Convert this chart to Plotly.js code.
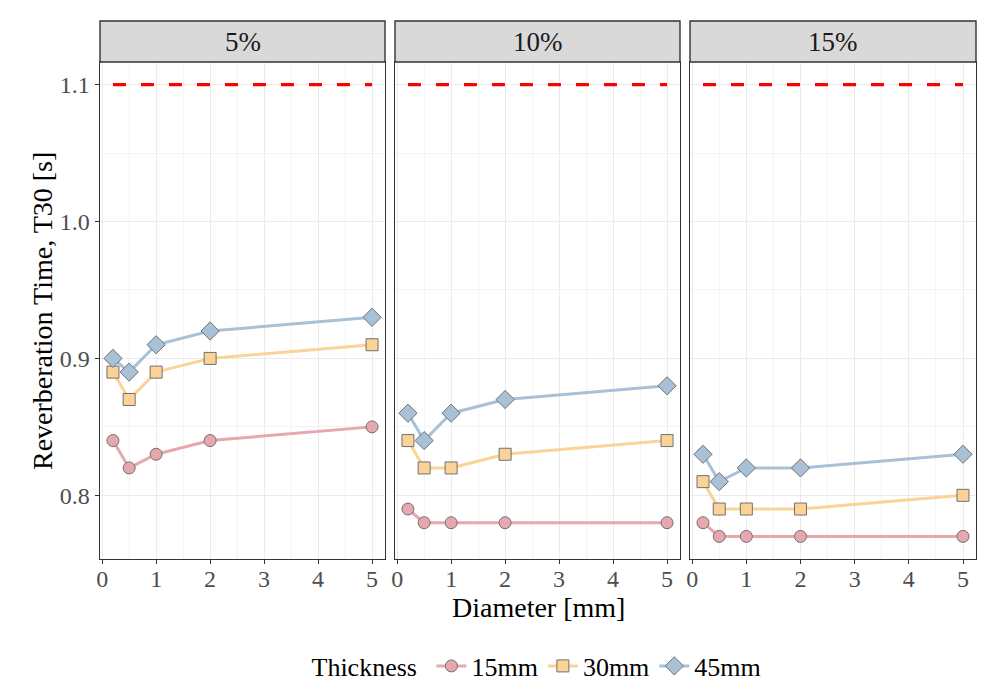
<!DOCTYPE html>
<html>
<head>
<meta charset="utf-8">
<script src="https://cdn.plot.ly/plotly-3.0.1.min.js"></script>
<style>html,body{margin:0;padding:0;background:#fff;}#chart{width:993px;height:695px;}</style>
</head>
<body>
<div id="chart"></div>
<script>
// ---- data ----
const panels = ["5%", "10%", "15%"];
const diameters = [0.2, 0.5, 1, 2, 5];
const thickness = ["15mm", "30mm", "45mm"];
const reference = [1.1, 1.1, 1.1, 1.1, 1.1];
const t30_5 = {
  "15mm": [0.84, 0.82, 0.83, 0.84, 0.85],
  "30mm": [0.89, 0.87, 0.89, 0.90, 0.91],
  "45mm": [0.90, 0.89, 0.91, 0.92, 0.93]
};
const t30_10 = {
  "15mm": [0.79, 0.78, 0.78, 0.78, 0.78],
  "30mm": [0.84, 0.82, 0.82, 0.83, 0.84],
  "45mm": [0.86, 0.84, 0.86, 0.87, 0.88]
};
const t30_15 = {
  "15mm": [0.78, 0.77, 0.77, 0.77, 0.77],
  "30mm": [0.81, 0.79, 0.79, 0.79, 0.80],
  "45mm": [0.83, 0.81, 0.82, 0.82, 0.83]
};
const xTicks = [0, 1, 2, 3, 4, 5];
const yTicks = [0.8, 0.9, 1.0, 1.1];
const yTickLabels = ["0.8", "0.9", "1.0", "1.1"];

// ---- styles ----
const W = 993, H = 695;
const colors = {"15mm": "#E6A7AE", "30mm": "#FCD397", "45mm": "#A9C1D7"};
const symbols = {"15mm": "circle", "30mm": "square", "45mm": "diamond"};
const sizes = {"15mm": 12, "30mm": 12, "45mm": 14};
const FONT = "Liberation Serif, Times New Roman, serif";
const panelX = [[100, 385], [395, 680], [690, 976]];
const plotTop = 62, plotBot = 559, stripTop = 21;

const allData = [t30_5, t30_10, t30_15];
const traces = [];
const layout = {
  width: W, height: H,
  margin: {l: 0, r: 0, t: 0, b: 0},
  paper_bgcolor: "#fff", plot_bgcolor: "#fff",
  font: {family: FONT, color: "#000"},
  showlegend: true,
  legend: {
    orientation: "h", x: 538 / W, xanchor: "center", y: 1 - 666 / H, yanchor: "middle",
    font: {family: FONT, size: 26, color: "#000"},
    title: {text: "Thickness ", font: {family: FONT, size: 26, color: "#000"}, side: "left"},
    itemwidth: 30, tracegroupgap: 0
  },
  shapes: [],
  annotations: []
};

panels.forEach((p, i) => {
  const xa = i === 0 ? "x" : "x" + (i + 1);
  const ya = i === 0 ? "y" : "y" + (i + 1);
  const xkey = i === 0 ? "xaxis" : "xaxis" + (i + 1);
  const ykey = i === 0 ? "yaxis" : "yaxis" + (i + 1);
  const d0 = panelX[i][0] / W, d1 = panelX[i][1] / W;
  layout[xkey] = {
    domain: [d0, d1], anchor: ya, range: [-0.04, 5.24],
    tickvals: xTicks, ticktext: xTicks.map(String),
    showgrid: true, gridcolor: "#EBEBEB", gridwidth: 1,
    minor: {dtick: 0.5, tick0: 0, showgrid: true, gridcolor: "#F4F4F4", gridwidth: 1, ticks: ""},
    zeroline: false,
    showline: true, linecolor: "#333333", linewidth: 1.4, mirror: true,
    ticks: "outside", ticklen: 4, tickcolor: "#333333", tickwidth: 1,
    ticklabelstandoff: -6,
    tickfont: {family: FONT, size: 24, color: "#4D4D4D"}
  };
  layout[ykey] = {
    domain: [1 - plotBot / H, 1 - plotTop / H], anchor: xa, range: [0.7535, 1.1165],
    tickvals: yTicks, ticktext: i === 0 ? yTickLabels : ["", "", "", ""],
    showticklabels: i === 0,
    showgrid: true, gridcolor: "#EBEBEB", gridwidth: 1,
    minor: {dtick: 0.05, tick0: 0.75, showgrid: true, gridcolor: "#F4F4F4", gridwidth: 1, ticks: ""},
    zeroline: false,
    showline: true, linecolor: "#333333", linewidth: 1.4, mirror: true,
    ticks: i === 0 ? "outside" : "", ticklen: 4, tickcolor: "#333333", tickwidth: 1,
    tickfont: {family: FONT, size: 24, color: "#4D4D4D"}
  };
  // strip
  layout.shapes.push({
    type: "rect", xref: "paper", yref: "paper",
    x0: d0, x1: d1, y0: 1 - plotTop / H, y1: 1 - stripTop / H,
    fillcolor: "#D9D9D9", line: {color: "#333333", width: 1.4}, layer: "above"
  });
  layout.annotations.push({
    xref: "paper", yref: "paper", x: (d0 + d1) / 2, y: 1 - ((plotTop + stripTop) / 2) / H,
    xanchor: "center", yanchor: "middle", showarrow: false, text: p,
    font: {family: FONT, size: 27, color: "#1A1A1A"}
  });
  // reference dashed line
  traces.push({
    type: "scatter", mode: "lines", x: diameters, y: reference, xaxis: xa, yaxis: ya,
    line: {color: "#FF0000", width: 3.2, dash: "13px,15px"}, showlegend: false, hoverinfo: "skip"
  });
  thickness.forEach(t => {
    traces.push({
      type: "scatter", mode: "lines+markers", name: t, legendgroup: t,
      x: diameters, y: allData[i][t], xaxis: xa, yaxis: ya,
      line: {color: colors[t], width: 3},
      marker: {symbol: symbols[t], size: sizes[t], color: colors[t], line: {color: "#707070", width: 1}},
      showlegend: i === 0
    });
  });
});

// axis titles
layout.annotations.push({
  xref: "paper", yref: "paper", x: 538 / W, y: 1 - 607 / H, xanchor: "center", yanchor: "middle",
  showarrow: false, text: "Diameter [mm]", font: {family: FONT, size: 28, color: "#000"}
});
layout.annotations.push({
  xref: "paper", yref: "paper", x: 42 / W, y: 1 - 311 / H, xanchor: "center", yanchor: "middle",
  showarrow: false, text: "Reverberation Time, T30 [s]", textangle: -90,
  font: {family: FONT, size: 28, color: "#000"}
});

Plotly.newPlot("chart", traces, layout, {displayModeBar: false, staticPlot: true});
</script>
</body>
</html>
